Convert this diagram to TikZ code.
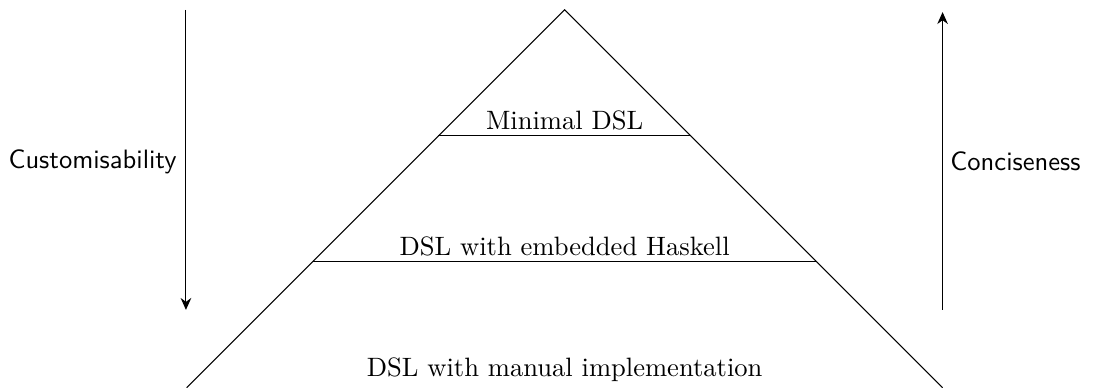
\documentclass[tikz,border=0pt]{standalone}
\usetikzlibrary{arrows.meta}
\begin{document}
\begin{tikzpicture}[
  lvl/.style={font=\rmfamily},
  side/.style={font=\sffamily},
  axis/.style={-{Stealth[length=4.5pt,width=4pt]}}
]
\useasboundingbox (0,0) rectangle (14.46,5.13);
\coordinate (bl) at (2.47,0);
\coordinate (br) at (12.47,0);
\coordinate (top) at (7.47,5.0);
\draw (bl) -- (top) -- (br);
\coordinate (l1a) at (4.14,1.667);
\coordinate (l1b) at (10.80,1.667);
\coordinate (l2a) at (5.80,3.333);
\coordinate (l2b) at (9.14,3.333);
\draw (l1a) -- (l1b);
\draw (l2a) -- (l2b);
\node[lvl] (n1) at (7.47,3.54) {Minimal DSL};
\node[lvl] (n2) at (7.47,1.87) {DSL with embedded Haskell};
\node[lvl] (n3) at (7.47,0.24) {DSL with manual implementation};
\coordinate (la) at (2.46,5.0);
\coordinate (lb) at (2.46,1.03);
\coordinate (ra) at (12.47,1.03);
\coordinate (rb) at (12.47,4.97);
\draw[axis] (la) -- (lb);
\draw[axis] (ra) -- (rb);
\node[side, anchor=east] (cust) at (2.46,2.99) {Customisability};
\node[side, anchor=west] (conc) at (12.45,2.99) {Conciseness};
\end{tikzpicture}
\end{document}
